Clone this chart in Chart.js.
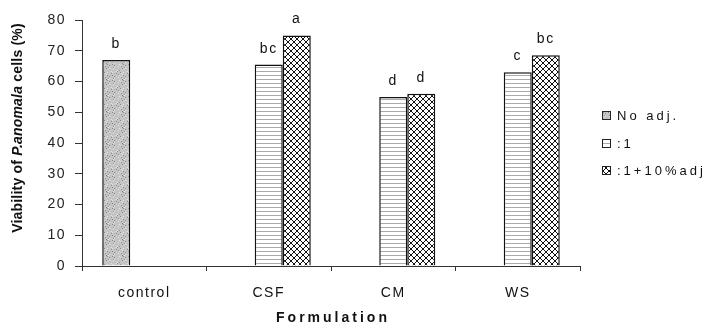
<!DOCTYPE html>
<html>
<head>
<meta charset="utf-8">
<script src="https://cdn.jsdelivr.net/npm/chart.js@4.4.0/dist/chart.umd.min.js"></script>
<style>
  html, body { margin: 0; padding: 0; background: #fff; }
  #wrap { width: 711px; height: 327px; }
</style>
</head>
<body>
<div id="wrap"><canvas id="chart" width="711" height="327"></canvas></div>
<script>
const categories = ['control', 'CSF', 'CM', 'WS'];
const seriesNames = ['No adj.', ':1', ':1+10%adj'];
const noAdj = [67, null, null, null];
const ratio1 = [null, 65.5, 55, 63];
const ratio1Adj = [null, 75, 56, 68.5];
const noAdjLetters = ['b', '', '', ''];
const ratio1Letters = ['', 'bc', 'd', 'c'];
const ratio1AdjLetters = ['', 'a', 'd', 'bc'];
const yTicks = [0, 10, 20, 30, 40, 50, 60, 70, 80];

const FONT = "'Liberation Sans', Arial, sans-serif";

function makeTile(w, h, draw) {
  const c = document.createElement('canvas');
  c.width = w; c.height = h;
  const g = c.getContext('2d');
  draw(g, w, h);
  return g.createPattern(c, 'repeat');
}

// grey speckled fill
const speckle = makeTile(16, 16, function(g, w, h) {
  g.fillStyle = '#c4c4c4';
  g.fillRect(0, 0, w, h);
  for (let i = 0; i < w; i++) {
    for (let j = 0; j < h; j++) {
      const k = (i * 7 + j * 13 + i * j * 3) % 11;
      if (k === 0) { g.fillStyle = '#8c8c8c'; g.fillRect(i, j, 1, 1); }
      else if (k === 5) { g.fillStyle = '#e4e4e4'; g.fillRect(i, j, 1, 1); }
    }
  }
});

// thin horizontal lines
const hlines = makeTile(4, 4, function(g, w, h) {
  g.fillStyle = '#fff';
  g.fillRect(0, 0, w, h);
  g.fillStyle = '#aaa';
  g.fillRect(0, 3, w, 1);
});

// cross hatch
const hatch = makeTile(6, 6, function(g, w, h) {
  g.fillStyle = '#fff';
  g.fillRect(0, 0, w, h);
  g.strokeStyle = '#111';
  g.lineWidth = 1;
  g.beginPath();
  g.moveTo(0, 0); g.lineTo(w, h);
  g.moveTo(0, h); g.lineTo(w, 0);
  g.stroke();
});

const fills = [speckle, hlines, hatch];
const letters = [noAdjLetters, ratio1Letters, ratio1AdjLetters];

const spacingPlugin = {
  id: 'spacing',
  beforeDraw(chart) {
    chart.ctx.letterSpacing = '1.5px';
  }
};

const extrasPlugin = {
  id: 'extras',
  afterDatasetsDraw(chart) {
    const ctx = chart.ctx;
    ctx.save();
    ctx.letterSpacing = '1.5px';
    ctx.font = '14px ' + FONT;
    ctx.fillStyle = '#111';
    ctx.textAlign = 'center';
    ctx.textBaseline = 'alphabetic';
    chart.data.datasets.forEach(function(ds, di) {
      const meta = chart.getDatasetMeta(di);
      meta.data.forEach(function(bar, i) {
        const t = letters[di][i];
        if (!t || ds.data[i] == null) return;
        ctx.fillText(t, bar.x, bar.y - 12);
      });
    });
    ctx.restore();
  },
  afterDraw(chart) {
    const ctx = chart.ctx;
    ctx.save();

    // y axis title with italic species name
    const parts = [
      ['Viability of ', 'bold 14px ' + FONT],
      ['P.anomala', 'italic bold 14px ' + FONT],
      [' cells (%)', 'bold 14px ' + FONT]
    ];
    ctx.letterSpacing = '0.2px';
    let total = 0;
    parts.forEach(function(p) { ctx.font = p[1]; total += ctx.measureText(p[0]).width; });
    ctx.translate(18, 128);
    ctx.rotate(-Math.PI / 2);
    ctx.fillStyle = '#111';
    ctx.textBaseline = 'middle';
    ctx.textAlign = 'left';
    let x = -total / 2;
    parts.forEach(function(p) {
      ctx.font = p[1];
      ctx.fillText(p[0], x, 0);
      x += ctx.measureText(p[0]).width;
    });
    ctx.restore();

    // x axis title
    ctx.save();
    ctx.letterSpacing = '3px';
    ctx.font = 'bold 14px ' + FONT;
    ctx.fillStyle = '#111';
    ctx.textAlign = 'center';
    ctx.textBaseline = 'middle';
    ctx.fillText('Formulation', 333, 318);
    ctx.restore();

    // legend
    ctx.save();
    ctx.letterSpacing = '3px';
    ctx.font = '13px ' + FONT;
    ctx.textBaseline = 'middle';
    ctx.textAlign = 'left';
    const ys = [115, 143, 170];
    seriesNames.forEach(function(name, i) {
      ctx.fillStyle = fills[i];
      ctx.fillRect(602, ys[i] - 4, 9, 9);
      ctx.strokeStyle = '#222';
      ctx.lineWidth = 1;
      ctx.strokeRect(602.5, ys[i] - 3.5, 8, 8);
      ctx.fillStyle = '#111';
      ctx.fillText(name, 617, ys[i] + 1);
    });
    ctx.restore();
  }
};

new Chart(document.getElementById('chart'), {
  type: 'bar',
  data: {
    labels: categories,
    datasets: [
      { label: seriesNames[0], data: noAdj, backgroundColor: fills[0], borderColor: '#111', borderWidth: 1.5 },
      { label: seriesNames[1], data: ratio1, backgroundColor: fills[1], borderColor: '#111', borderWidth: 1.5 },
      { label: seriesNames[2], data: ratio1Adj, backgroundColor: fills[2], borderColor: '#111', borderWidth: 1.5 }
    ]
  },
  options: {
    responsive: false,
    animation: false,
    devicePixelRatio: 1,
    layout: { padding: { top: 20, right: 131, bottom: 0, left: 0 } },
    datasets: { bar: { categoryPercentage: 0.675, barPercentage: 1, grouped: true } },
    plugins: { legend: { display: false }, tooltip: { enabled: false } },
    scales: {
      x: {
        afterFit(scale) { scale.height = 61; },
        grid: { display: true, drawOnChartArea: false, offset: true, tickLength: 5, color: '#333', lineWidth: 1 },
        border: { display: true, color: '#333', width: 1 },
        ticks: { color: '#111', font: { size: 14, family: FONT }, padding: 14 }
      },
      y: {
        min: 0,
        max: 80,
        afterFit(scale) { scale.width = 82; },
        afterBuildTicks(scale) { scale.ticks = yTicks.map(function(v) { return { value: v }; }); },
        grid: { display: true, drawOnChartArea: false, tickLength: 7, color: '#333', lineWidth: 1 },
        border: { display: true, color: '#333', width: 1 },
        ticks: { color: '#222', font: { size: 14, family: FONT }, padding: 9 }
      }
    }
  },
  plugins: [spacingPlugin, extrasPlugin]
});
</script>
</body>
</html>
